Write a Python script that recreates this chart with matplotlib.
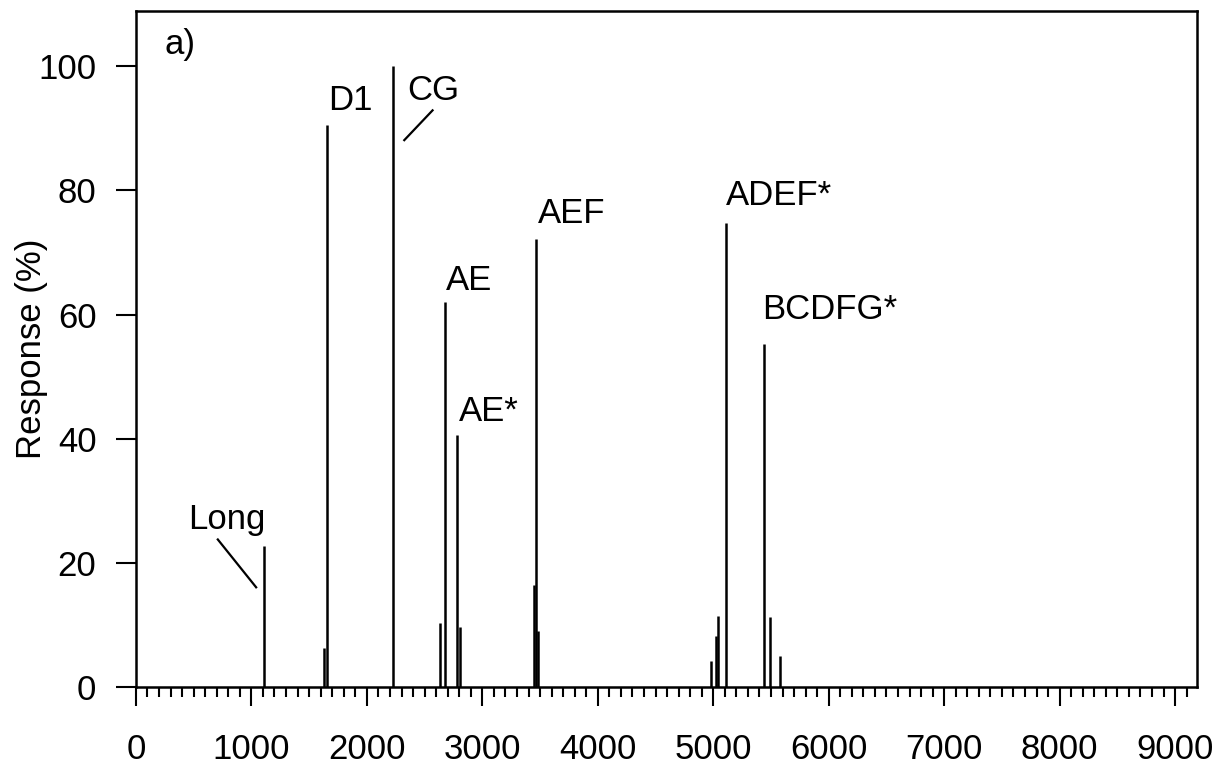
import matplotlib
matplotlib.use('Agg')
import matplotlib.pyplot as plt
from matplotlib.ticker import MultipleLocator

# peak positions and heights
peak_x = [1107, 1626, 1652, 2226, 2630, 2673, 2782, 2806, 3448, 3465, 3478,
          4983, 5026, 5040, 5108, 5441, 5488, 5574]
peak_h = [22.7, 6.3, 90.6, 100.0, 10.3, 62.0, 40.6, 9.7, 16.5, 72.2, 9.1,
          4.3, 8.3, 11.5, 74.7, 55.3, 11.3, 5.0]

peak_names = ['Long', 'D1', 'CG', 'AE', 'AE*', 'AEF', 'ADEF*', 'BCDFG*']
x_ticks = [0, 1000, 2000, 3000, 4000, 5000, 6000, 7000, 8000, 9000]
y_ticks = [0, 20, 40, 60, 80, 100]


def main():
    plt.rcParams['font.family'] = ['Liberation Sans', 'DejaVu Sans']
    fig = plt.figure(figsize=(12.28, 7.68), dpi=100)
    ax = fig.add_axes([0.1107, 0.1051, 0.8641, 0.8806])

    ax.vlines(peak_x, 0, peak_h, colors='black', linewidth=1.8)

    # where each name sits (data coords, left/baseline)
    label_pos = [(450, 25.5), (1661, 93.0), (2353, 94.5), (2686, 64.0),
                 (2800, 42.9), (3478, 74.8), (5107, 77.6), (5424, 59.3)]
    for name, (lx, ly) in zip(peak_names, label_pos):
        ax.text(lx, ly, name, fontsize=25, ha='left', va='baseline')

    # leader lines
    ax.plot([709, 1041], [23.8, 16.1], color='black', linewidth=1.6)
    ax.plot([2569, 2324], [92.9, 88.1], color='black', linewidth=1.6)

    ax.text(245, 101.9, 'a)', fontsize=25, ha='left', va='baseline')

    ax.set_xlim(0, 9190)
    ax.set_ylim(0, 108.9)
    ax.set_xticks(x_ticks)
    ax.set_xticklabels([str(v) for v in x_ticks])
    ax.xaxis.set_minor_locator(MultipleLocator(100))
    ax.set_yticks(y_ticks)
    ax.set_yticklabels([str(v) for v in y_ticks])

    ax.tick_params(axis='x', which='major', direction='out', length=13.7,
                   width=1.5, labelsize=25, pad=19)
    ax.tick_params(axis='x', which='minor', direction='out', length=7,
                   width=1.5)
    ax.tick_params(axis='y', which='major', direction='out', length=14.4,
                   width=1.5, labelsize=25, pad=14)

    for sp in ax.spines.values():
        sp.set_linewidth(1.8)

    ax.set_ylabel('Response (%)', fontsize=25)
    ax.yaxis.set_label_coords(-0.083, 0.5)

    fig.savefig('out.png', dpi=100)


if __name__ == "__main__":
    main()
